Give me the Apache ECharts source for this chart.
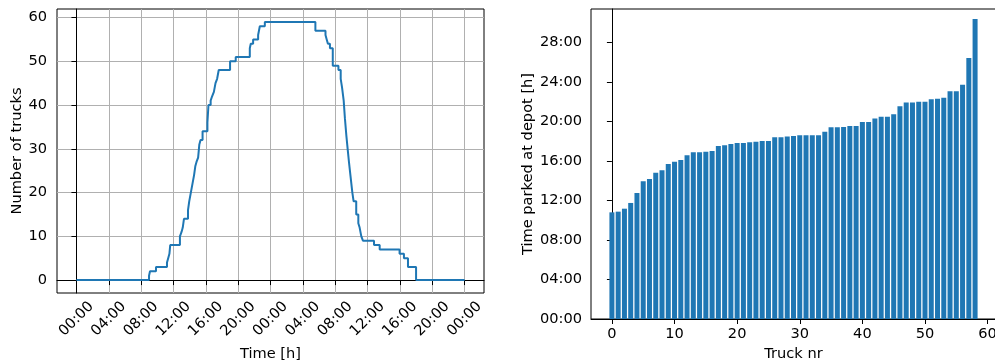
<!DOCTYPE html>
<html>
<head>
<meta charset="utf-8">
<script src="https://cdn.jsdelivr.net/npm/echarts@6/dist/echarts.min.js"></script>
<style>
  html, body { margin: 0; padding: 0; background: #fff; }
  #chart { width: 995px; height: 361px; }
</style>
</head>
<body>
<div id="chart"></div>
<script>
// Trucks present at the depot over two days (hours since first midnight)
const stepHours = [0, 8.98, 9.1, 9.84, 11.2, 11.35, 11.5, 11.6, 12.8, 13.0, 13.15, 13.3,
  13.8, 13.95, 14.15, 14.35, 14.55, 14.7, 14.85, 15.05, 15.2, 15.35, 15.6,
  16.2, 16.33, 16.6, 16.78, 17.0, 17.2, 17.4, 17.6, 19.0, 19.7,
  21.44, 21.56, 21.85, 22.47, 22.68, 23.3,
  29.55, 30.8, 30.95, 31.1, 31.35, 31.7, 32.4, 32.68, 32.85, 33.05, 33.2, 33.38,
  33.54, 33.7, 33.88, 34.12, 34.28, 34.6, 34.86, 35.02, 35.23, 35.43,
  36.8, 37.5, 39.96, 40.5, 41.0, 42.0, 48];
const truckCounts = [0, 1, 2, 3, 4, 5, 6, 8, 10, 11, 12, 14,
  16, 18, 20, 22, 24, 26, 27, 28, 31, 32, 34,
  36, 40, 41, 42, 43, 45, 46, 48, 50, 51,
  53, 54, 55, 56, 58, 59,
  57, 56, 55, 54, 53, 49, 48, 46, 44, 41, 37, 33,
  30, 27, 24, 20, 18, 15, 13, 12, 10, 9,
  8, 7, 6, 5, 3, 0, 0];

const timeTickValues = [0, 4, 8, 12, 16, 20, 24, 28, 32, 36, 40, 44, 48];
const timeTickLabels = ['00:00', '04:00', '08:00', '12:00', '16:00', '20:00', '00:00',
  '04:00', '08:00', '12:00', '16:00', '20:00', '00:00'];
const countTickValues = [0, 10, 20, 30, 40, 50, 60];

// Parking duration per truck, in hours, sorted ascending
const parkedHours = [10.8, 10.87, 11.17, 11.75, 12.76, 13.94, 14.18, 14.82, 15.06, 15.7,
  15.93, 16.1, 16.57, 16.88, 16.88, 16.94, 17.01, 17.52, 17.59, 17.72,
  17.82, 17.82, 17.89, 17.96, 18.03, 18.03, 18.4, 18.4, 18.47, 18.53,
  18.6, 18.6, 18.6, 18.6, 18.97, 19.41, 19.41, 19.44, 19.54, 19.54,
  19.95, 19.95, 20.29, 20.49, 20.49, 20.73, 21.54, 21.91, 21.91, 22.01,
  22.01, 22.25, 22.31, 22.41, 23.06, 23.06, 23.73, 26.43, 30.38];
const truckTickValues = [0, 10, 20, 30, 40, 50, 60];
const parkedTickValues = [0, 4, 8, 12, 16, 20, 24, 28];
const parkedTickLabels = ['00:00', '04:00', '08:00', '12:00', '16:00', '20:00', '24:00', '28:00'];

const FONT = 'DejaVu Sans';
const FS = 14.6;
const INK = '#000';
const BLUE = '#1f77b4';

function labelFrom(values, labels) {
  return v => {
    const i = values.findIndex(x => Math.abs(x - v) < 1e-6);
    return i >= 0 ? labels[i] : '';
  };
}

const textStyle = { fontFamily: FONT, fontSize: FS, color: INK };
const axisLine = { show: true, lineStyle: { color: INK, width: 1 } };
function ticks(values) {
  return { show: true, customValues: values, length: 5, inside: false, lineStyle: { color: INK, width: 1 } };
}

const chart = echarts.init(document.getElementById('chart'), null, { renderer: 'canvas' });
chart.setOption({
  animation: false,
  backgroundColor: '#fff',
  grid: [
    { left: 57, top: 9, width: 427, height: 284, outerBoundsMode: 'none', containLabel: false,
      show: true, borderColor: INK, borderWidth: 1, backgroundColor: 'transparent' },
    { left: 591, top: 9, width: 405, height: 310, outerBoundsMode: 'none', containLabel: false,
      show: true, borderColor: INK, borderWidth: 1, backgroundColor: 'transparent' }
  ],
  xAxis: [
    {
      type: 'value', gridIndex: 0, min: -2.4, max: 50.4,
      axisLine, axisTick: ticks(timeTickValues),
      axisLabel: Object.assign({
        customValues: timeTickValues, formatter: labelFrom(timeTickValues, timeTickLabels),
        rotate: 45, align: 'center', verticalAlign: 'middle', margin: 26
      }, textStyle),
      splitLine: { show: true, lineStyle: { color: '#b0b0b0', width: 1 } },
      name: 'Time [h]', nameLocation: 'middle', nameGap: 54, nameTextStyle: textStyle
    },
    {
      type: 'value', gridIndex: 1, min: -3.34, max: 61.34,
      axisLine, axisTick: ticks(truckTickValues),
      axisLabel: Object.assign({ customValues: truckTickValues, margin: 8 }, textStyle),
      splitLine: { show: false },
      name: 'Truck nr', nameLocation: 'middle', nameGap: 25, nameTextStyle: textStyle
    }
  ],
  yAxis: [
    {
      type: 'value', gridIndex: 0, min: -2.95, max: 61.95,
      axisLine, axisTick: ticks(countTickValues),
      axisLabel: Object.assign({ customValues: countTickValues, margin: 10 }, textStyle),
      splitLine: { show: true, lineStyle: { color: '#b0b0b0', width: 1 } },
      name: 'Number of trucks', nameLocation: 'middle', nameRotate: 90, nameGap: 32, nameTextStyle: textStyle
    },
    {
      type: 'value', gridIndex: 1, min: 0, max: 31.39,
      axisLine, axisTick: ticks(parkedTickValues),
      axisLabel: Object.assign({
        customValues: parkedTickValues, formatter: labelFrom(parkedTickValues, parkedTickLabels), margin: 9
      }, textStyle),
      splitLine: { show: false },
      name: 'Time parked at depot [h]', nameLocation: 'middle', nameRotate: 90, nameGap: 55, nameTextStyle: textStyle
    }
  ],
  series: [
    {
      type: 'line', xAxisIndex: 0, yAxisIndex: 0, step: 'end',
      showSymbol: false, symbol: 'none',
      lineStyle: { color: BLUE, width: 2 },
      data: stepHours.map((t, i) => [t, truckCounts[i]])
    },
    {
      type: 'bar', xAxisIndex: 1, yAxisIndex: 1, barWidth: 5,
      itemStyle: { color: BLUE },
      data: parkedHours.map((h, i) => [i, h])
    }
  ]
});
</script>
</body>
</html>
